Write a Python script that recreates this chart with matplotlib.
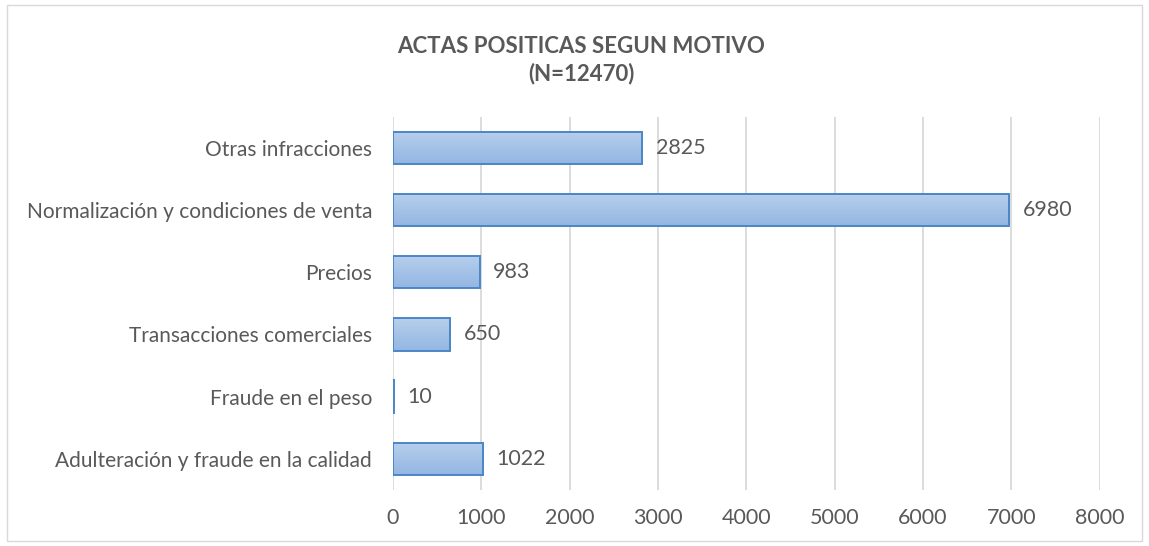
import matplotlib

matplotlib.use("Agg")

import matplotlib.pyplot as plt
import numpy as np
from matplotlib.patches import Rectangle

categories = [
    "Adulteración y fraude en la calidad",
    "Fraude en el peso",
    "Transacciones comerciales",
    "Precios",
    "Normalización y condiciones de venta",
    "Otras infracciones",
]
values = [1022, 10, 650, 983, 6980, 2825]
x_ticks = [0, 1000, 2000, 3000, 4000, 5000, 6000, 7000, 8000]

plt.rcParams["font.family"] = ["Lato", "DejaVu Sans"]
text_color = "#595959"

fig = plt.figure(figsize=(11.49, 5.46), dpi=100)
ax = fig.add_axes([0.342, 0.103, 0.615, 0.683])

y = np.arange(len(categories))
bars = ax.barh(y, values, height=0.52, color="none", edgecolor="#4a86c8", linewidth=1.4, zorder=3)

# vertical gradient fill for each bar
grad = np.linspace(0, 1, 100).reshape(-1, 1)
cmap = matplotlib.colors.LinearSegmentedColormap.from_list("bar", ["#b7cfec", "#93b6e2"])
for bar in bars:
    x0, y0 = bar.get_x(), bar.get_y()
    w, h = bar.get_width(), bar.get_height()
    im = ax.imshow(grad, cmap=cmap, aspect="auto", extent=(x0, x0 + w, y0, y0 + h),
                   origin="upper", zorder=2)
    im.set_clip_path(bar)

for yi, v in zip(y, values):
    ax.text(v + 150, yi, f"{v}", va="center", ha="left", fontsize=15.5, color=text_color)

ax.set_xlim(0, 8000)
ax.set_ylim(-0.5, len(categories) - 0.5)
ax.set_xticks(x_ticks)
ax.set_xticklabels([str(t) for t in x_ticks], fontsize=15.5, color=text_color)
ax.set_yticks(y)
ax.set_yticklabels(categories, fontsize=15, color=text_color)
ax.tick_params(axis="both", length=0)
ax.tick_params(axis="x", pad=13)
ax.tick_params(axis="y", pad=15)
ax.grid(axis="x", color="#d9d9d9", linewidth=1.3, zorder=0)
ax.set_axisbelow(True)
for s in ax.spines.values():
    s.set_visible(False)

fig.text(0.506, 0.89, "ACTAS POSITICAS SEGUN MOTIVO\n(N=12470)", ha="center", va="center",
         fontsize=16, fontweight="bold", color=text_color, linespacing=1.3)

fig.patches.append(Rectangle((0.006, 0.01), 0.988, 0.98, transform=fig.transFigure,
                             fill=False, edgecolor="#d9d9d9", linewidth=1))

fig.savefig("out.png", dpi=100)
